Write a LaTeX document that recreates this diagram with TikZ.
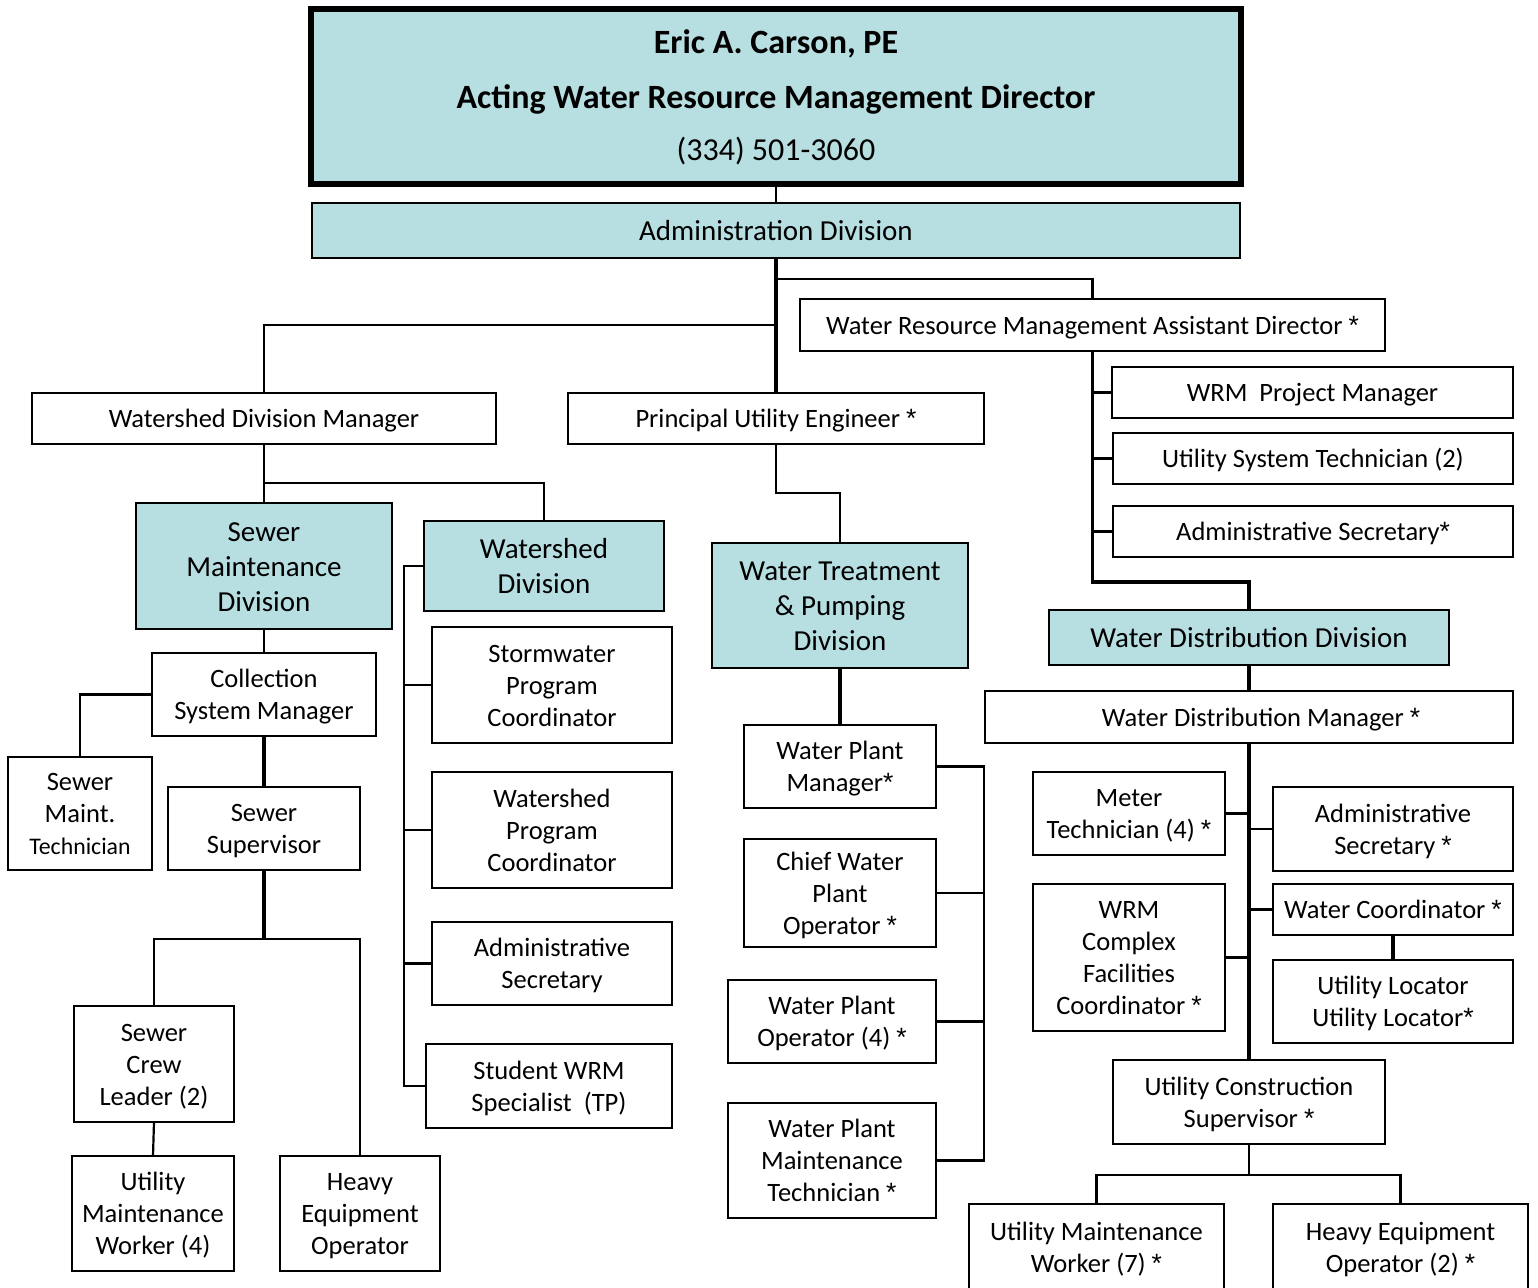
\documentclass[tikz,border=0pt]{standalone}
\usepackage{fontspec}
\setmainfont{Carlito}
\newfontfamily\astfont{Liberation Sans}
\newcommand\asx{{\astfont *}}
\newcommand\topstrut{\rule{0pt}{0.95em}}
\newcommand\botstrut{\rule[-0.25em]{0pt}{0.25em}}
\definecolor{divfill}{RGB}{183,222,225}
% #1 extra style, #2 name, #3/#4 upper-left corner, #5/#6 lower-right corner, #7 text
\newcommand\orgnode[7][]{%
  \node[orgbox,#1,minimum width={0.5pt*(#5-#3)},minimum height={0.5pt*(#6-#4)}]
    (#2) at ({(#3+#5)/2},{(#4+#6)/2}) {\topstrut#7\botstrut};}
\begin{document}
\begin{tikzpicture}[x=0.5pt,y=-0.5pt,
  orgbox/.style={draw=black,line width=1pt,fill=white,inner sep=0pt,outer sep=0pt,
    align=center,font=\fontsize{13.25}{16}\selectfont},
  division/.style={fill=divfill,font=\fontsize{14.5}{17.5}\selectfont},
  link/.style={line width=1.1pt},
  trunk/.style={line width=1.6pt}]
\useasboundingbox (0,0) rectangle (1538,1287);
\clip (0,0) rectangle (1538,1287);
\fill[white] (0,0) rectangle (1538,1287);

% ---- top ----
\node[orgbox,division,line width=3pt,font=\fontsize{17}{27.5}\selectfont,
      minimum width={0.5pt*930},minimum height={0.5pt*175}] (dir) at (776,96.5)
  {\rule{0pt}{12.7pt}\bfseries Eric A. Carson, PE\\ \bfseries Acting Water Resource Management Director\\[-1.5pt]
   \fontsize{16}{27.5}\selectfont (334) 501-3060};
\orgnode[division]{adm}{312}{203}{1240}{258}{Administration Division}
\orgnode{wad}{800}{299}{1385}{351}{Water Resource Management Assistant Director \asx}
\orgnode{wdm}{32}{393}{496}{444}{Watershed Division Manager}
\orgnode{pue}{568}{393}{984}{444}{Principal Utility Engineer \asx}

% ---- assistant director staff ----
\orgnode{wpmg}{1112}{367}{1513}{418}{WRM\ \ Project Manager}
\orgnode{ust}{1113}{433}{1513}{484}{Utility System Technician (2)}
\orgnode{ads}{1113}{506}{1513}{557}{Administrative Secretary\asx}

% ---- sewer maintenance ----
\orgnode[division]{smd}{136}{503}{392}{629}{Sewer\\Maintenance\\Division}
\orgnode{csm}{152}{653}{376}{736}{Collection\\System Manager}
\orgnode{smt}{8}{757}{152}{870}{Sewer\\Maint.\\{\fontsize{11.9}{16}\selectfont Technician}}
\orgnode{ssv}{168}{787}{360}{870}{Sewer\\Supervisor}
\orgnode{scl}{74}{1006}{234}{1122}{Sewer\\Crew\\Leader (2)}
\orgnode{umwa}{72}{1156}{234}{1271}{Utility\\Maintenance\\Worker (4)}
\orgnode{heoa}{280}{1156}{440}{1271}{Heavy\\Equipment\\Operator}

% ---- watershed ----
\orgnode[division]{wsd}{424}{521}{664}{611}{Watershed\\Division}
\orgnode{spc}{432}{627}{672}{743}{Stormwater\\Program\\Coordinator}
\orgnode{wpc}{432}{772}{672}{888}{Watershed\\Program\\Coordinator}
\orgnode{wsec}{432}{922}{672}{1005}{Administrative\\Secretary}
\orgnode{swrm}{426}{1044}{672}{1128}{Student WRM\\Specialist\ \ (TP)}

% ---- water treatment ----
\orgnode[division]{wtp}{712}{543}{968}{668}{Water Treatment\\\& Pumping\\Division}
\orgnode{wplm}{744}{725}{936}{808}{Water Plant\\Manager\asx}
\orgnode{cwpo}{744}{839}{936}{947}{Chief Water\\Plant\\Operator \asx}
\orgnode{wpo}{728}{980}{936}{1063}{Water Plant\\Operator (4) \asx}
\orgnode{wpmt}{728}{1103}{936}{1218}{Water Plant\\Maintenance\\Technician \asx}

% ---- water distribution ----
\orgnode[division]{wdd}{1049}{610}{1449}{665}{Water Distribution Division}
\orgnode{wdmg}{985}{691}{1513}{743}{\hspace*{12pt}Water Distribution Manager \asx}
\orgnode{mtec}{1033}{772}{1225}{855}{Meter\\Technician (4) \asx}
\orgnode{wcfc}{1033}{884}{1225}{1031}{WRM\\Complex\\Facilities\\Coordinator \asx}
\orgnode{dsec}{1273}{787}{1513}{871}{Administrative\\Secretary \asx}
\orgnode{wcoo}{1273}{884}{1513}{935}{Water Coordinator \asx}
\orgnode{uloc}{1273}{960}{1513}{1043}{Utility Locator\\Utility Locator\asx}
\orgnode{ucs}{1113}{1060}{1385}{1144}{Utility Construction\\Supervisor \asx}
\orgnode{umwb}{969}{1204}{1224}{1290}{Utility Maintenance\\Worker (7) \asx}
\orgnode{heob}{1273}{1204}{1528}{1290}{Heavy Equipment\\Operator (2) \asx}

% ---- connectors ----
\coordinate (wtbus) at (984,0);
\coordinate (wsbus) at (404,0);

\draw[link] (dir.south) -- (adm.north);
\draw[trunk] (adm.south) -- (pue.north);
\draw[link] (adm.south) ++(0,21) -| (wad.north);
\draw[link] (adm.south) ++(0,67) -| (wdm.north);

\draw[trunk] (wad.south) -- ++(0,231) -| (wdd.north);
\draw[link] (wpmg.west) -- (wpmg.west -| wad.south);
\draw[link] (ust.west) -- (ust.west -| wad.south);
\draw[link] (ads.west) -- (ads.west -| wad.south);

\draw[link] (wdm.south) -- ++(0,39) -| (wsd.north);
\draw[link] (wdm.south) -- (smd.north);

\draw[link] (smd.south) -- (csm.north);
\draw[link] (csm.west) -| (smt.north);
\draw[trunk] (csm.south) -- (ssv.north);
\draw[trunk] (ssv.south) -- ++(0,69) coordinate (sbr);
\draw[link] (sbr) -| (scl.north);
\draw[link] (sbr) -| (heoa.north);
\draw[link] (scl.south) -- (umwa.north);

\draw[link] (wsd.west) -- (wsd.west -| wsbus) -- (swrm.west -| wsbus) -- (swrm.west);
\draw[link] (spc.west) -- (spc.west -| wsbus);
\draw[link] (wpc.west) -- (wpc.west -| wsbus);
\draw[link] (wsec.west) -- (wsec.west -| wsbus);

\draw[link] (pue.south) -- ++(0,49) -| (wtp.north);
\draw[trunk] (wtp.south) -- (wplm.north);
\draw[link] (wplm.east) -- (wplm.east -| wtbus) -- (wpmt.east -| wtbus) -- (wpmt.east);
\draw[link] (cwpo.east) -- (cwpo.east -| wtbus);
\draw[link] (wpo.east) -- (wpo.east -| wtbus);

\draw[trunk] (wdd.south) -- (wdmg.north);
\draw[trunk] (wdmg.south) -- (ucs.north);
\draw[link] (mtec.east) -- (mtec.east -| wdmg.south);
\draw[link] (wcfc.east) -- (wcfc.east -| wdmg.south);
\draw[link] (dsec.west) -- (dsec.west -| wdmg.south);
\draw[link] (wcoo.west) -- (wcoo.west -| wdmg.south);
\draw[trunk] (wcoo.south) -- (uloc.north);
\draw[link] (ucs.south) -- ++(0,31) coordinate (ubr);
\draw[link] (ubr) -| (umwb.north);
\draw[link] (ubr) -| (heob.north);
\end{tikzpicture}
\end{document}
